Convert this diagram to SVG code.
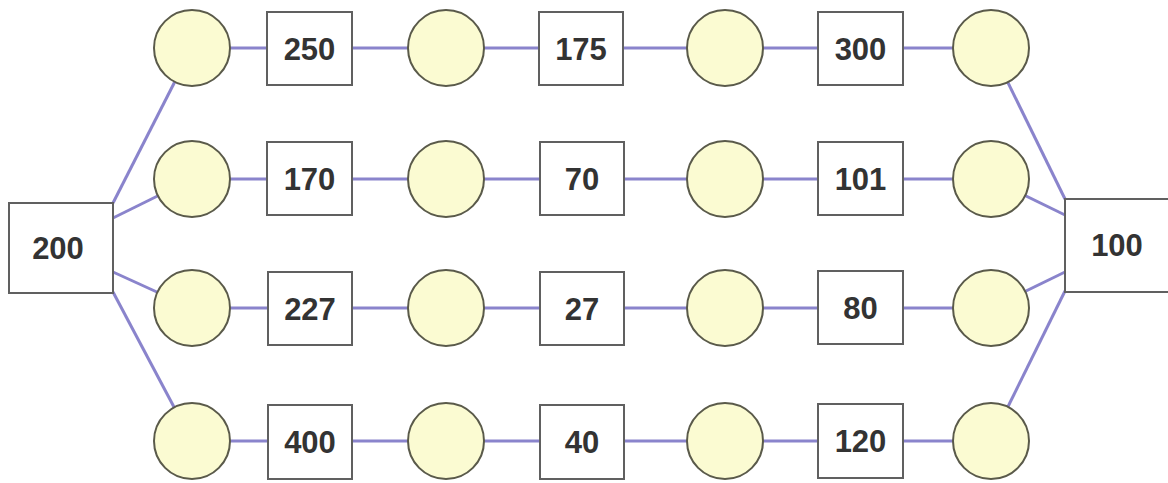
<svg xmlns="http://www.w3.org/2000/svg" width="1168" height="483" viewBox="0 0 1168 483">
<style>
.c{fill:#fbfbd2;stroke:#5a5a4a;stroke-width:2}
.b{fill:#ffffff;stroke:#606060;stroke-width:2}
.l{stroke:#8a84cc;stroke-width:3;fill:none}
.t{font-family:"Liberation Sans",Arial,sans-serif;font-weight:bold;font-size:31px;fill:#333333;text-anchor:middle}
</style>
<rect width="1168" height="483" fill="#ffffff"/>
<g id="connectors">
<line class="l" x1="192" y1="48" x2="991" y2="48"/>
<line class="l" x1="192" y1="179" x2="991" y2="179"/>
<line class="l" x1="192" y1="308" x2="991" y2="308"/>
<line class="l" x1="192" y1="441" x2="991" y2="441"/>
<line class="l" x1="113" y1="203" x2="192" y2="48"/>
<line class="l" x1="113" y1="218" x2="192" y2="179"/>
<line class="l" x1="113" y1="272" x2="192" y2="308"/>
<line class="l" x1="113" y1="292" x2="192" y2="441"/>
<line class="l" x1="1065" y1="199" x2="991" y2="48"/>
<line class="l" x1="1065" y1="215" x2="991" y2="179"/>
<line class="l" x1="1065" y1="272" x2="991" y2="308"/>
<line class="l" x1="1065" y1="291" x2="991" y2="441"/>
</g>
<g id="n200"><rect class="b" x="9" y="203" width="104" height="90"/><text class="t" x="58" y="259">200</text></g>
<g id="n100"><rect class="b" x="1065" y="199" width="110" height="93"/><text class="t" x="1117" y="256">100</text></g>
<g id="c11"><circle class="c" cx="192" cy="48" r="38"/></g>
<g id="c12"><circle class="c" cx="446" cy="48" r="38"/></g>
<g id="c13"><circle class="c" cx="725" cy="48" r="38"/></g>
<g id="c14"><circle class="c" cx="991" cy="48" r="38"/></g>
<g id="c21"><circle class="c" cx="192" cy="179" r="38"/></g>
<g id="c22"><circle class="c" cx="446" cy="179" r="38"/></g>
<g id="c23"><circle class="c" cx="725" cy="179" r="38"/></g>
<g id="c24"><circle class="c" cx="991" cy="179" r="38"/></g>
<g id="c31"><circle class="c" cx="192" cy="308" r="38"/></g>
<g id="c32"><circle class="c" cx="446" cy="308" r="38"/></g>
<g id="c33"><circle class="c" cx="725" cy="308" r="38"/></g>
<g id="c34"><circle class="c" cx="991" cy="308" r="38"/></g>
<g id="c41"><circle class="c" cx="192" cy="441" r="38"/></g>
<g id="c42"><circle class="c" cx="446" cy="441" r="38"/></g>
<g id="c43"><circle class="c" cx="725" cy="441" r="38"/></g>
<g id="c44"><circle class="c" cx="991" cy="441" r="38"/></g>
<g id="b250"><rect class="b" x="267" y="12" width="85" height="73"/><text class="t" x="309.5" y="59.5">250</text></g>
<g id="b175"><rect class="b" x="539" y="12" width="84" height="73"/><text class="t" x="581" y="59.5">175</text></g>
<g id="b300"><rect class="b" x="818" y="12" width="85" height="73"/><text class="t" x="860.5" y="59.5">300</text></g>
<g id="b170"><rect class="b" x="267" y="142" width="85" height="73"/><text class="t" x="309.5" y="189.5">170</text></g>
<g id="b70"><rect class="b" x="540" y="142" width="84" height="73"/><text class="t" x="582" y="189.5">70</text></g>
<g id="b101"><rect class="b" x="818" y="142" width="85" height="73"/><text class="t" x="860.5" y="189.5">101</text></g>
<g id="b227"><rect class="b" x="268" y="272" width="84" height="73"/><text class="t" x="310" y="319.5">227</text></g>
<g id="b27"><rect class="b" x="540" y="272" width="84" height="73"/><text class="t" x="582" y="319.5">27</text></g>
<g id="b80"><rect class="b" x="818" y="271" width="85" height="73"/><text class="t" x="860.5" y="318.5">80</text></g>
<g id="b400"><rect class="b" x="268" y="405" width="84" height="74"/><text class="t" x="310" y="453">400</text></g>
<g id="b40"><rect class="b" x="540" y="405" width="84" height="74"/><text class="t" x="582" y="453">40</text></g>
<g id="b120"><rect class="b" x="818" y="404" width="85" height="74"/><text class="t" x="860.5" y="452">120</text></g>
</svg>
